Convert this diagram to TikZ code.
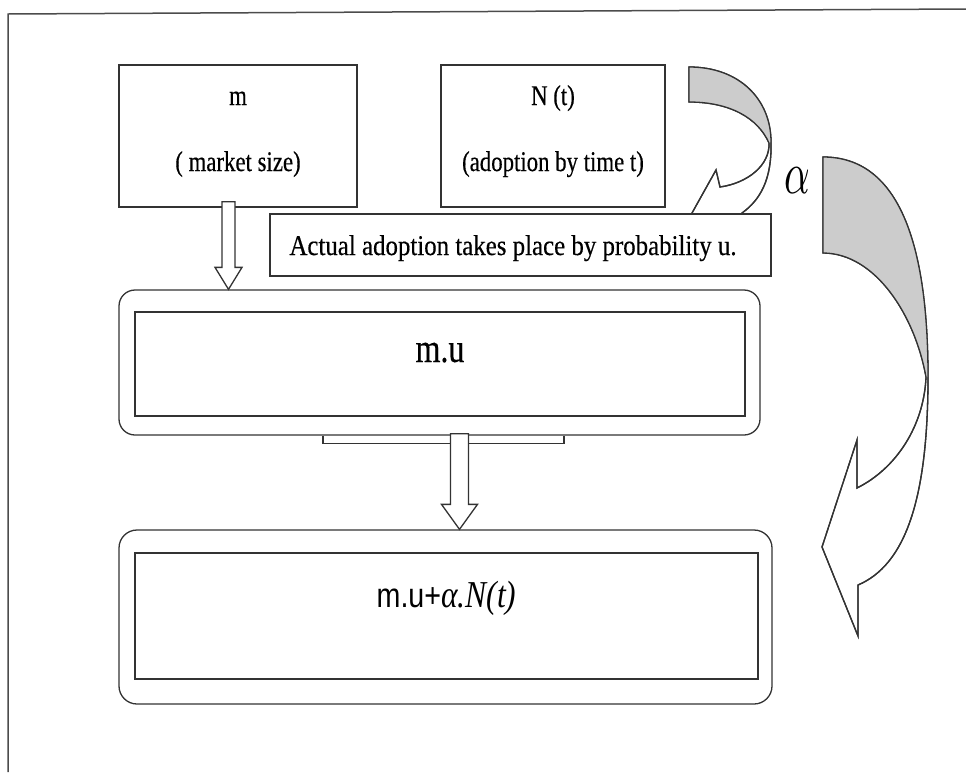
\documentclass[tikz,border=0pt]{standalone}
\usepackage{fontspec}
\usepackage{graphicx}
\setmainfont{Liberation Serif}
\newfontfamily\tnr[FakeStretch=0.80,FakeBold=0.4]{Liberation Serif}
\newfontfamily\tnrb[FakeStretch=0.87,FakeBold=0.4]{Liberation Serif}
\newfontfamily\tnrc[FakeStretch=0.78,FakeBold=0.3]{Liberation Serif}
\newfontfamily\tnri[FakeStretch=0.83]{Liberation Serif}
\newfontfamily\arialf[FakeStretch=0.83]{Liberation Sans}
\usetikzlibrary{calc}
\tikzset{
  ln/.style={draw=black!80, line width=1.3pt},
  plainbox/.style={ln, rectangle, fill=white, inner sep=0pt},
  roundbox/.style={ln, rectangle, fill=white, inner sep=0pt},
  lbl/.style={inner sep=0pt, anchor=base, font=\tnr\fontsize{28.5}{30}\selectfont},
  hollow/.style={ln, fill=white, line join=miter},
  ribbon/.style={ln, line join=miter},
  shade/.style={fill=black!20},
}
\newcommand\hollowdown[5]{%
  \draw[hollow] let \p1=(#1), \p2=(#2) in
  (\x1-#3pt,\y1) -- (\x1+#3pt,\y1) -- (\x1+#3pt,\y2+#5pt) -- (\x1+#4pt,\y2+#5pt)
  -- (\x1,\y2) -- (\x1-#4pt,\y2+#5pt) -- (\x1-#3pt,\y2+#5pt) -- cycle;}
\begin{document}
\begin{tikzpicture}[x=1pt,y=-1pt]
\useasboundingbox (0,0) rectangle (966,772);
% frame
\draw[draw=black!70, line width=1.5pt] (8,772) -- (8,14) -- (966,9);

% big curved arrow (right)
\draw[ribbon, fill=white] (823,157) .. controls (895,157) and (928,235) .. (928,377)
  .. controls (928,500) and (905,565) .. (858,585) -- (858,636) -- (822,547) -- (857,440) -- (857,488)
  .. controls (897,468) and (924,425) .. (926,377)
  .. controls (915,315) and (875,253) .. (823,253) -- cycle;
\fill[shade] (823,157) .. controls (895,157) and (928,235) .. (928,377) -- (926,377)
  .. controls (915,315) and (875,253) .. (823,253) -- cycle;
\draw[ribbon] (823,157) .. controls (895,157) and (928,235) .. (928,377)
  .. controls (928,500) and (905,565) .. (858,585) -- (858,636) -- (822,547) -- (857,440) -- (857,488)
  .. controls (897,468) and (924,425) .. (926,377)
  .. controls (915,315) and (875,253) .. (823,253) -- cycle;

% small curved arrow (top)
\draw[ribbon, fill=white] (689,67) .. controls (740,67) and (771,100) .. (771,142)
  .. controls (772,180) and (760,200) .. (742,213) -- (736,238) -- (700,238) -- (692,213)
  -- (716,170) -- (720,187) .. controls (748,183) and (770,165) .. (769,143)
  .. controls (758,118) and (730,102) .. (689,102) -- cycle;
\fill[shade] (689,67) .. controls (740,67) and (771,100) .. (771,142) -- (769,143)
  .. controls (758,118) and (730,102) .. (689,102) -- cycle;
\draw[ribbon] (689,67) .. controls (740,67) and (771,100) .. (771,142)
  .. controls (772,180) and (760,200) .. (742,213) -- (736,238) -- (700,238) -- (692,213)
  -- (716,170) -- (720,187) .. controls (748,183) and (770,165) .. (769,143)
  .. controls (758,118) and (730,102) .. (689,102) -- cycle;

\node[inner sep=0pt, anchor=base] (alpha) at (797,193)
  {\scalebox{4}[6]{$\alpha$}};

% top boxes
\node[plainbox, minimum width=238pt, minimum height=142pt] (mbox) at (238,136) {};
\node[plainbox, minimum width=224pt, minimum height=142pt] (nbox) at (553,136) {};
\node[lbl] (mlab) at (238,105) {m};
\node[lbl] (mdesc) at (238,171) {( market size)};
\node[lbl] (nlab) at (553,105) {N (t)};
\node[lbl] (ndesc) at (553,171) {(adoption by time t)};

% actual adoption box
\node[plainbox, minimum width=501pt, minimum height=62pt] (abox) at (520.5,245) {};
\node[inner sep=0pt, anchor=base, font=\tnrb\fontsize{28.6}{30}\selectfont] (atext) at (513,255) {Actual adoption takes place by probability u.};

% m.u box
\node[roundbox, rounded corners=16pt, minimum width=641pt, minimum height=145pt] (muout) at (439.5,362.5) {};
\node[plainbox, minimum width=610pt, minimum height=104pt] (muin) at (440,364) {};
\node[inner sep=0pt, anchor=base, font=\tnrc\fontsize{41}{43}\selectfont] (mutext) at (440,362) {m.u};

% bottom box
\node[roundbox, rounded corners=18pt, minimum width=653pt, minimum height=174pt] (botout) at (445.5,617) {};
\node[plainbox, minimum width=623pt, minimum height=126pt] (botin) at (446.5,616) {};
\node[inner sep=0pt, anchor=base] (bottext) at (446.5,607)
  {{\arialf\fontsize{34.5}{36}\selectfont m.u+}{\tnri\itshape\fontsize{38}{40}\selectfont α.N(t)}};

% bracket under m.u box
\draw[ln] ($(muout.south)+(-116.5,0)$) -- ++(0,8) -- ++(241,0) -- ++(0,-8);

% hollow arrows
\coordinate (a1s) at ($(mbox.south)+(-9.5,-6)$);
\coordinate (a1e) at (a1s |- muout.north);
\hollowdown{a1s}{a1e}{6.5}{13.5}{22}
\coordinate (a2s) at ($(muout.south)+(20,-2)$);
\coordinate (a2e) at (a2s |- botout.north);
\hollowdown{a2s}{a2e}{9}{18}{25}
\end{tikzpicture}
\end{document}
